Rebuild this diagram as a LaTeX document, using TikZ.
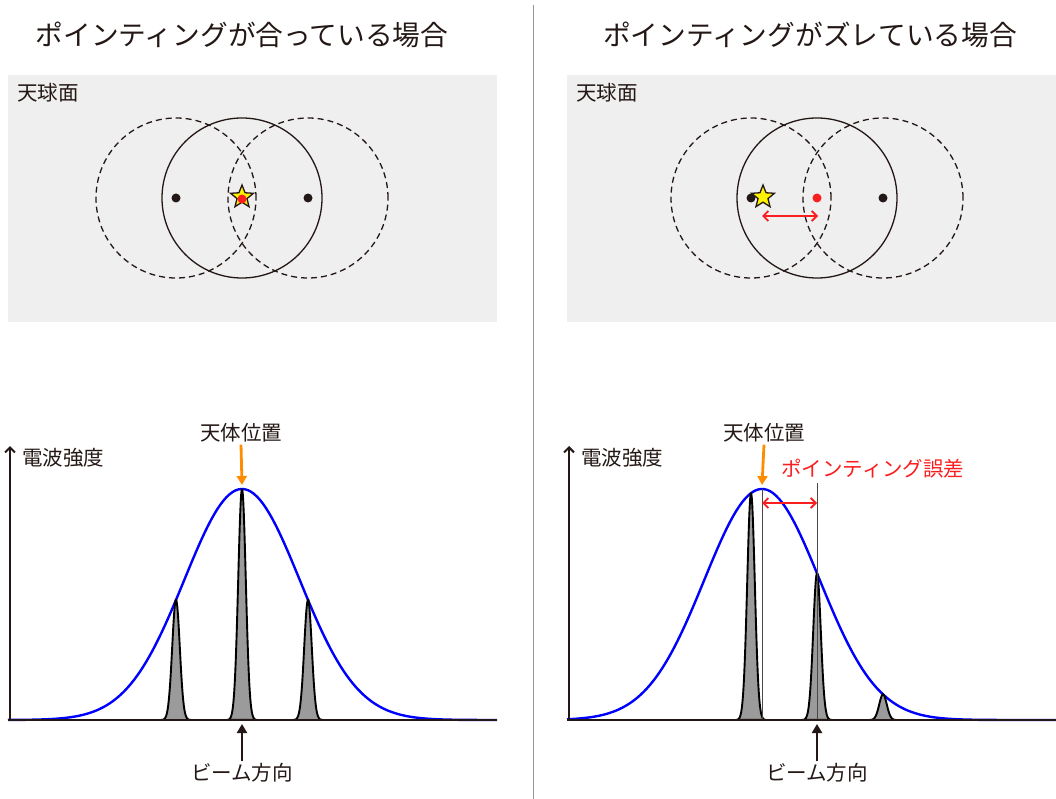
\documentclass[tikz,border=0pt]{standalone}
\usepackage{fontspec}
\newfontfamily\jpfont{Noto Sans CJK JP}
\usepackage{tikz}
\usetikzlibrary{shapes.geometric, arrows.meta}
\definecolor{skygray}{RGB}{239,239,239}
\definecolor{inkblack}{RGB}{35,24,21}
\definecolor{posorange}{RGB}{255,140,0}
\definecolor{errred}{RGB}{250,30,30}
\definecolor{divgray}{RGB}{150,150,150}
\definecolor{beamgray}{RGB}{155,155,155}

\begin{document}
\begin{tikzpicture}[x=1pt, y=-1pt,
    title/.style={font=\jpfont\fontsize{27.7}{32}\selectfont, text=inkblack},
    lbl/.style={font=\jpfont\fontsize{20.5}{24}\selectfont, text=inkblack, inner sep=2pt},
    sky/.style={fill=skygray, draw=none},
    bcirc/.style={circle, draw=inkblack, line width=1.3pt, minimum size=160pt, inner sep=0pt},
    dcirc/.style={bcirc, dash pattern=on 6pt off 4pt},
    dot/.style={circle, fill=#1, minimum size=9pt, inner sep=0pt},
    src/.style={star, star points=5, star point ratio=2.3, fill=yellow, draw=inkblack,
        line width=1.3pt, minimum size=24pt, inner sep=0pt},
    axis/.style={line width=2pt, inkblack},
    yaxis/.style={axis, -{Straight Barb[length=5pt, width=10pt]}},
    resp/.style={line width=2.4pt, blue},
    beam/.style={fill=beamgray, draw=black, line width=1.9pt},
    posarr/.style={-{Triangle[length=9pt, width=10pt]}, line width=2.8pt, posorange},
    beamarr/.style={-{Triangle[length=9pt, width=10pt]}, line width=2.8pt, inkblack},
    errarr/.style={{Straight Barb[length=5pt, width=10pt]}-{Straight Barb[length=5pt, width=10pt]},
        line width=1.8pt, errred},
    guide/.style={line width=0.8pt, inkblack!80}
]
\useasboundingbox (0,0) rectangle (1056,799);

% Divider
\draw[divgray, line width=1pt] (533,5) -- (533,799);

% Titles
\node[title] (titleL) at (242,35) {ポインティングが合っている場合};
\node[title] (titleR) at (810,35) {ポインティングがズレている場合};

% Left sky: pointing ok
\fill[sky] (8,75) rectangle (497,322);
\node[lbl, anchor=west] (skyL) at (15,93) {天球面};
\node[bcirc] (cL) at (242,198) {};
\node[dcirc] (cL1) at (176,198) {};
\node[dcirc] (cL2) at (308,198) {};
\node[dot=inkblack] (dL1) at (176,198) {};
\node[dot=inkblack] (dL2) at (308,198) {};
\node[src] (starL) at (242,197) {};
\node[dot=errred] (dL0) at (242,199) {};

% Right sky: pointing off
\fill[sky] (567,75) rectangle (1056,322);
\node[lbl, anchor=west] (skyR) at (574,93) {天球面};
\node[bcirc] (cR) at (817,198) {};
\node[dcirc] (cR1) at (751,198) {};
\node[dcirc] (cR2) at (883,198) {};
\node[dot=inkblack] (dR1) at (751,198) {};
\node[dot=inkblack] (dR2) at (883,198) {};
\node[dot=errred] (dR0) at (817,198) {};
\node[src] (starR) at (763,197) {};
\coordinate (eL) at (762,216);
\coordinate (eR) at (818,216);
\draw[errarr] (eL) -- (eR);

% Left plot
\coordinate (oL) at (10,720);
\coordinate (yL) at (10,446);
\coordinate (xL) at (497,720);
\draw[resp] plot[domain=8:497, samples=160] (\x, {720-231*exp(-((\x-242)/57.7)^2/2)});
\foreach \bx in {176,242,308} {
    \pgfmathsetmacro{\h}{231*exp(-((\bx-242)/57.7)^2/2)}
    \filldraw[beam] plot[domain=-15:15, samples=60] ({\bx+\x}, {720-\h*exp(-(\x/3.8)^2/2)}) -- cycle;
}
\draw[yaxis] (oL) -- (yL);
\draw[axis] (8,720) -- (xL);
\node[lbl, anchor=west] (ampL) at (20,458) {電波強度};
\node[lbl] (posL) at (241,433) {天体位置};
\coordinate (topL) at (242,485);
\draw[posarr] (posL.south) -- (topL);
\node[lbl] (dirL) at (242,773) {ビーム方向};
\coordinate (baseL) at (242,724);
\draw[beamarr] (dirL.north) -- (baseL);

% Right plot
\coordinate (oR) at (569,720);
\coordinate (yR) at (569,446);
\coordinate (xR) at (1056,720);
\draw[resp] plot[domain=567:1056, samples=160] (\x, {720-231*exp(-((\x-762)/57.7)^2/2)});
\foreach \bx in {751,817,883} {
    \pgfmathsetmacro{\h}{231*exp(-((\bx-762)/57.7)^2/2)}
    \filldraw[beam] plot[domain=-15:15, samples=60] ({\bx+\x}, {720-\h*exp(-(\x/3.8)^2/2)}) -- cycle;
}
\coordinate (gA) at (762,489);
\coordinate (gA0) at (762,720);
\coordinate (gB) at (817,483);
\coordinate (gB0) at (817,720);
\draw[guide] (gA) -- (gA0);
\draw[guide] (gB) -- (gB0);
\coordinate (pA) at (762,503);
\coordinate (pB) at (817,503);
\draw[errarr] (pA) -- (pB);
\draw[yaxis] (oR) -- (yR);
\draw[axis] (567,720) -- (xR);
\node[lbl, anchor=west] (ampR) at (579,458) {電波強度};
\node[lbl] (posR) at (764,433) {天体位置};
\coordinate (topR) at (762,485);
\draw[posarr] (posR.south) -- (topR);
\node[lbl, text=errred, anchor=west] (errR) at (779,469) {ポインティング誤差};
\node[lbl] (dirR) at (817,773) {ビーム方向};
\coordinate (baseR) at (817,724);
\draw[beamarr] (dirR.north) -- (baseR);

\end{tikzpicture}
\end{document}
